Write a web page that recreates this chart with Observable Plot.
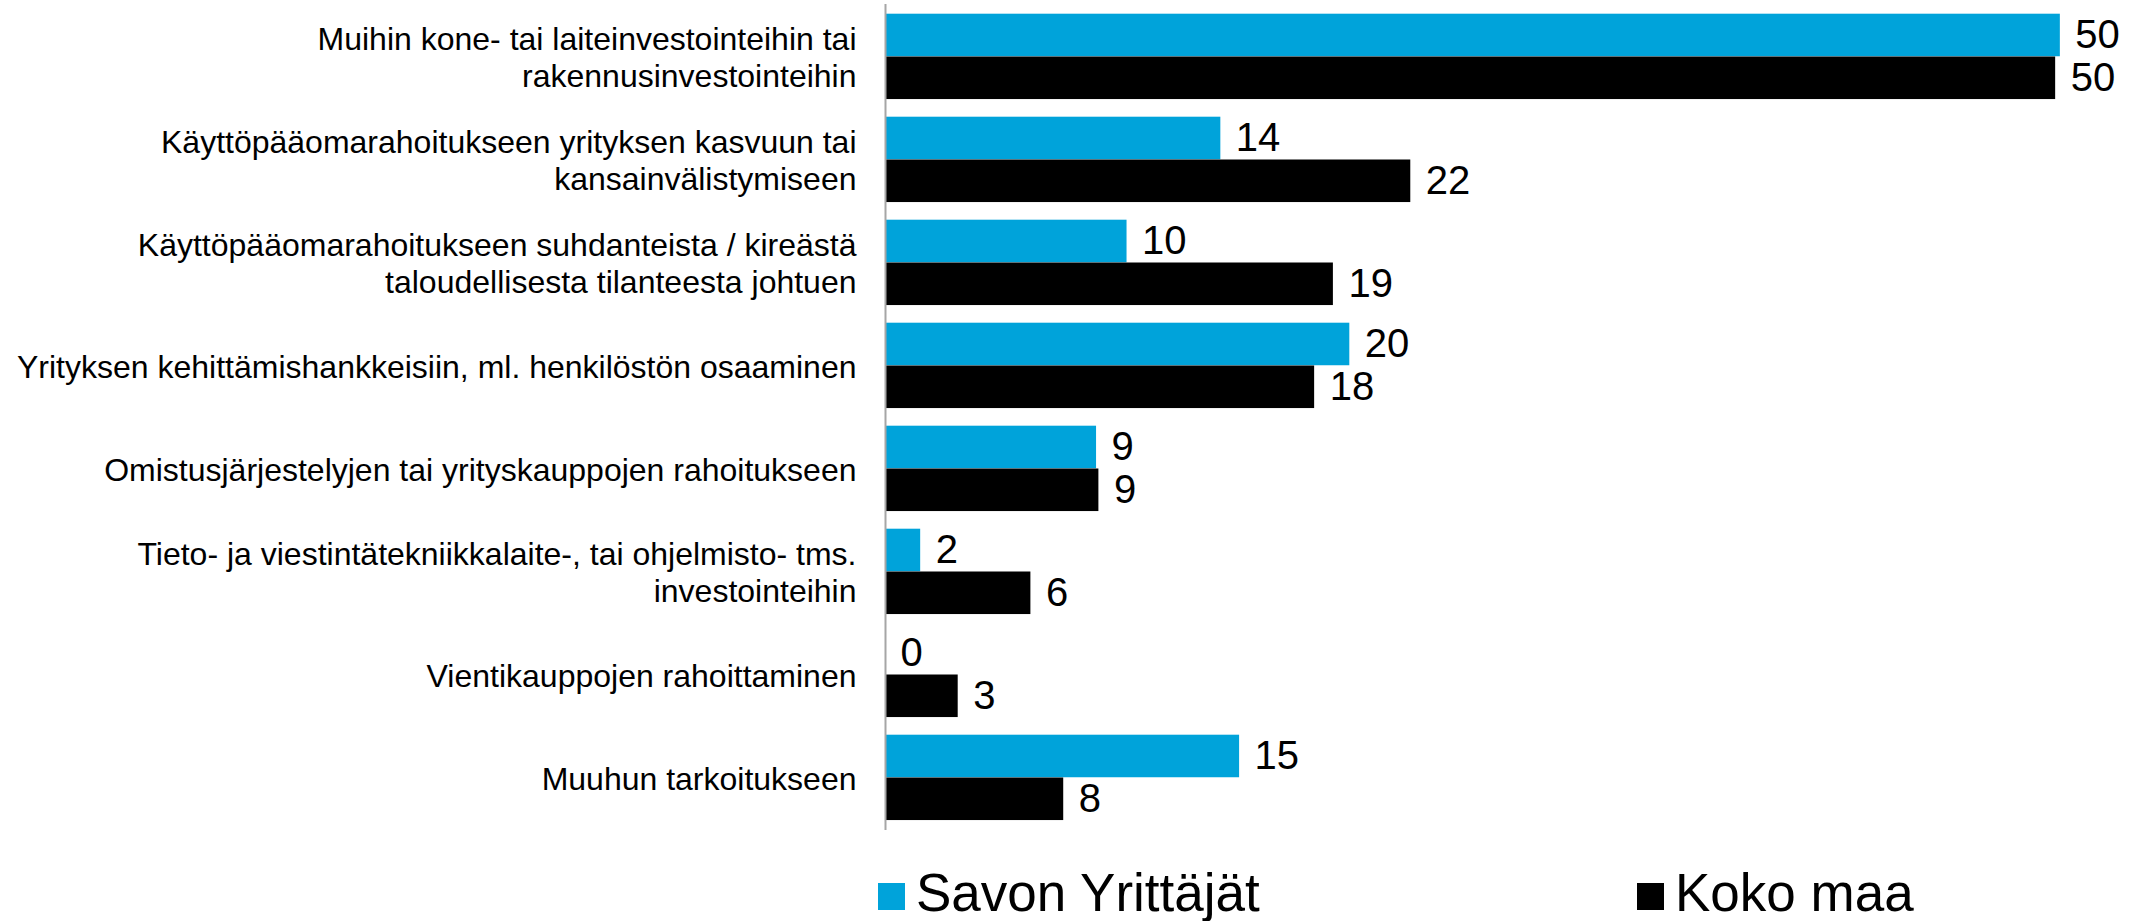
<!DOCTYPE html>
<html>
<head>
<meta charset="utf-8">
<script src="https://cdn.jsdelivr.net/npm/d3@7"></script>
<script src="https://cdn.jsdelivr.net/npm/@observablehq/plot@0.6"></script>
<style>
  html, body { margin: 0; padding: 0; background: #fff; }
  body { width: 2131px; height: 921px; position: relative; overflow: hidden;
         font-family: "Liberation Sans", Arial, sans-serif; }
  #chart { position: absolute; left: 0; top: 0; }
  .lg-sw { position: absolute; width: 27px; height: 27px; }
  .lg-tx { position: absolute; font-size: 53px; line-height: 53px; color: #000; white-space: nowrap; }
</style>
</head>
<body>
<div id="chart"></div>
<div class="lg-sw" style="left:878px; top:883px; background:#00a3da;"></div>
<div class="lg-tx" style="left:916px; top:866px;">Savon Yrittäjät</div>
<div class="lg-sw" style="left:1637px; top:883px; background:#000;"></div>
<div class="lg-tx" style="left:1675px; top:866px;">Koko maa</div>
<script>
const categories = [
  "Muihin kone- tai laiteinvestointeihin tai\nrakennusinvestointeihin",
  "Käyttöpääomarahoitukseen yrityksen kasvuun tai\nkansainvälistymiseen",
  "Käyttöpääomarahoitukseen suhdanteista / kireästä\ntaloudellisesta tilanteesta johtuen",
  "Yrityksen kehittämishankkeisiin, ml. henkilöstön osaaminen",
  "Omistusjärjestelyjen tai yrityskauppojen rahoitukseen",
  "Tieto- ja viestintätekniikkalaite-, tai ohjelmisto- tms.\ninvestointeihin",
  "Vientikauppojen rahoittaminen",
  "Muuhun tarkoitukseen"
];
const seriesNames = ["Savon Yrittäjät", "Koko maa"];
const savonValues = [50.1, 14.3, 10.3, 19.8, 9.0, 1.5, 0, 15.1];
const kokoMaaValues = [49.9, 22.4, 19.1, 18.3, 9.1, 6.2, 3.1, 7.6];
const colors = ["#00a3da", "#000000"];

const rows = [];
categories.forEach((c, i) => {
  rows.push({category: c, series: seriesNames[0], value: savonValues[i]});
  rows.push({category: c, series: seriesNames[1], value: kokoMaaValues[i]});
});

const band = (830 - 4) / categories.length;
const barH = 42.8;
const padTop = 8.7;

const chart = Plot.plot({
  width: 2131,
  height: 850,
  marginLeft: 885,
  marginRight: 73.5,
  marginTop: 4,
  marginBottom: 20,
  style: {fontFamily: "'Liberation Sans', Arial, sans-serif", background: "#fff", color: "#000"},
  x: {domain: [0, 50], axis: null},
  y: {domain: categories, padding: 0, label: null},
  marks: [
    Plot.barX(rows.filter(d => d.series === seriesNames[0]), {
      x: "value", y: "category", fill: colors[0],
      insetTop: padTop, insetBottom: band - padTop - barH
    }),
    Plot.barX(rows.filter(d => d.series === seriesNames[1]), {
      x: "value", y: "category", fill: colors[1],
      insetTop: padTop + barH, insetBottom: band - padTop - 2 * barH
    }),
    Plot.ruleX([0], {stroke: "#a6a6a6", strokeWidth: 2}),
    Plot.axisY({tickSize: 0, tickPadding: 29, fontSize: 32, lineHeight: 1.16, fill: "#000", label: null}),
    Plot.text(rows.filter(d => d.series === seriesNames[0]), {
      x: "value", y: "category", text: d => String(Math.round(d.value)),
      textAnchor: "start", dx: 15, dy: (padTop + barH / 2) - band / 2,
      fontSize: 40, fill: "#000"
    }),
    Plot.text(rows.filter(d => d.series === seriesNames[1]), {
      x: "value", y: "category", text: d => String(Math.round(d.value)),
      textAnchor: "start", dx: 15, dy: (padTop + 1.5 * barH) - band / 2,
      fontSize: 40, fill: "#000"
    })
  ]
});
document.getElementById("chart").appendChild(chart);
</script>
</body>
</html>
